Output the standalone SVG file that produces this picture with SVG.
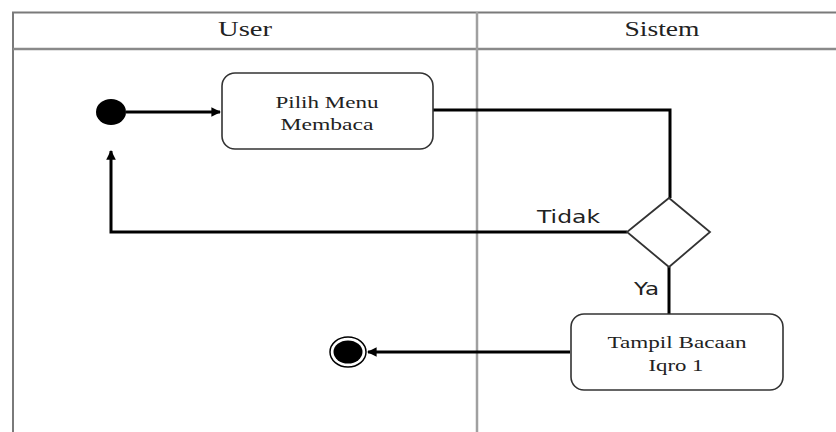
<svg xmlns="http://www.w3.org/2000/svg" width="836" height="432" viewBox="0 0 836 432">
  <style>
    .frame { fill: none; stroke: #7a7a7a; stroke-width: 2; }
    .divider { stroke: #a0a0a0; stroke-width: 2.5; }
    .lane-title { font-family: "Liberation Serif", "Times New Roman", serif; font-size: 20px; fill: #222; text-anchor: middle; }
    .action { fill: #fff; stroke: #333; stroke-width: 1.6; }
    .action-text { font-family: "Liberation Serif", "Times New Roman", serif; font-size: 17px; fill: #222; text-anchor: middle; }
    .flow { fill: none; stroke: #000; stroke-width: 3; stroke-linejoin: miter; }
    .guard { font-family: "DejaVu Sans", "Liberation Sans", sans-serif; font-size: 17px; fill: #222; }
    .decision { fill: #fff; stroke: #333; stroke-width: 1.8; }
  </style>
  <defs>
    <marker id="arrow" viewBox="0 0 10 10" refX="9" refY="5" markerWidth="3.2" markerHeight="3.2" orient="auto" markerUnits="strokeWidth">
      <path d="M0,0 L10,5 L0,10 z" fill="#000"/>
    </marker>
  </defs>

  <rect width="836" height="432" fill="#fff"/>

  <!-- swimlane frame -->
  <g id="lanes">
    <path class="frame" d="M13,432 V12.5 H836"/>
    <line x1="13" y1="49" x2="836" y2="49" stroke="#8a8a8a" stroke-width="2.5"/>
    <line class="divider" x1="477" y1="12" x2="477" y2="432"/>
    <text class="lane-title" x="245" y="36" textLength="54" lengthAdjust="spacingAndGlyphs">User</text>
    <text class="lane-title" x="662" y="36" textLength="75" lengthAdjust="spacingAndGlyphs">Sistem</text>
  </g>

  <!-- control flows -->
  <g id="connectors">
    <path class="flow" d="M126,112 H220" marker-end="url(#arrow)"/>
    <path class="flow" d="M433,110 H670 V198"/>
    <path class="flow" d="M627,232 H111 V151" marker-end="url(#arrow)"/>
    <path class="flow" d="M669,267 V314"/>
    <path class="flow" d="M570,352 H368" marker-end="url(#arrow)"/>
    <text class="guard" x="537" y="223" textLength="63" lengthAdjust="spacingAndGlyphs">Tidak</text>
    <text class="guard" x="634" y="295" textLength="25" lengthAdjust="spacingAndGlyphs">Ya</text>
  </g>

  <g id="start">
    <ellipse cx="111" cy="112" rx="15" ry="13" fill="#000"/>
  </g>

  <g id="pilih-menu">
    <rect class="action" x="222" y="73" width="211" height="76" rx="13" ry="13"/>
    <text class="action-text" x="327" y="108" textLength="103" lengthAdjust="spacingAndGlyphs">Pilih Menu</text>
    <text class="action-text" x="327" y="130" textLength="93" lengthAdjust="spacingAndGlyphs">Membaca</text>
  </g>

  <g id="decision">
    <polygon class="decision" points="669,198 710,232 669,267 627,232"/>
  </g>

  <g id="tampil-bacaan">
    <rect class="action" x="571" y="314" width="212" height="76" rx="13" ry="13"/>
    <text class="action-text" x="677" y="348" textLength="139" lengthAdjust="spacingAndGlyphs">Tampil Bacaan</text>
    <text class="action-text" x="676" y="371" textLength="55" lengthAdjust="spacingAndGlyphs">Iqro 1</text>
  </g>

  <g id="end">
    <ellipse cx="348" cy="352" rx="18" ry="15" fill="none" stroke="#000" stroke-width="1.5"/>
    <ellipse cx="348" cy="352" rx="14.5" ry="11.5" fill="#000"/>
  </g>
</svg>
